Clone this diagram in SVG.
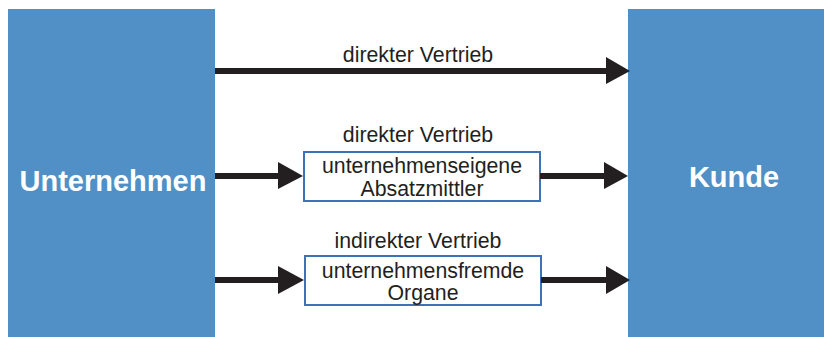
<svg xmlns="http://www.w3.org/2000/svg" width="824" height="337" viewBox="0 0 824 337">
  <defs>
    <style>
      .block { fill: #5190C6; }
      .block-label { font-family: "Liberation Sans", Arial, sans-serif; font-weight: bold; font-size: 29px; fill: #FFFFFF; text-anchor: middle; }
      .channel { fill: #FFFFFF; stroke: #3C73B8; stroke-width: 2; }
      .label { font-family: "Liberation Sans", Arial, sans-serif; font-size: 21.3px; fill: #231F20; text-anchor: middle; }
      .conn { stroke: #231F20; stroke-width: 6; fill: none; }
      .head { fill: #231F20; }
    </style>
  </defs>

  <rect width="824" height="337" fill="#FFFFFF"/>

  <!-- Company block -->
  <g id="unternehmen">
    <rect class="block" x="8" y="9" width="207" height="328"/>
    <text class="block-label" x="113" y="191">Unternehmen</text>
  </g>

  <!-- Customer block -->
  <g id="kunde">
    <rect class="block" x="628" y="9" width="196" height="328"/>
    <text class="block-label" x="734" y="187">Kunde</text>
  </g>

  <!-- Intermediate channel boxes -->
  <g id="absatzmittler">
    <rect class="channel" x="304" y="152" width="236" height="49"/>
    <text class="label" x="422" y="173">unternehmenseigene</text>
    <text class="label" x="422" y="196">Absatzmittler</text>
  </g>

  <g id="organe">
    <rect class="channel" x="305" y="256" width="236" height="49"/>
    <text class="label" x="423" y="278">unternehmensfremde</text>
    <text class="label" x="423" y="300">Organe</text>
  </g>

  <!-- Channel labels -->
  <g id="labels">
    <text class="label" x="418" y="62">direkter Vertrieb</text>
    <text class="label" x="418" y="142">direkter Vertrieb</text>
    <text class="label" x="418" y="248">indirekter Vertrieb</text>
  </g>

  <!-- Connectors -->
  <g id="connectors">
    <line class="conn" x1="215" y1="71" x2="608" y2="71"/>
    <polygon class="head" points="606,57 630,71 606,84"/>

    <line class="conn" x1="215" y1="176" x2="280" y2="176"/>
    <polygon class="head" points="278,162 303,176 278,189"/>
    <line class="conn" x1="540" y1="176" x2="606" y2="176"/>
    <polygon class="head" points="604,162 628,176 604,189"/>

    <line class="conn" x1="215" y1="280" x2="280" y2="280"/>
    <polygon class="head" points="278,266 304,280 278,294"/>
    <line class="conn" x1="541" y1="280" x2="608" y2="280"/>
    <polygon class="head" points="606,266 630,280 606,294"/>
  </g>
</svg>
